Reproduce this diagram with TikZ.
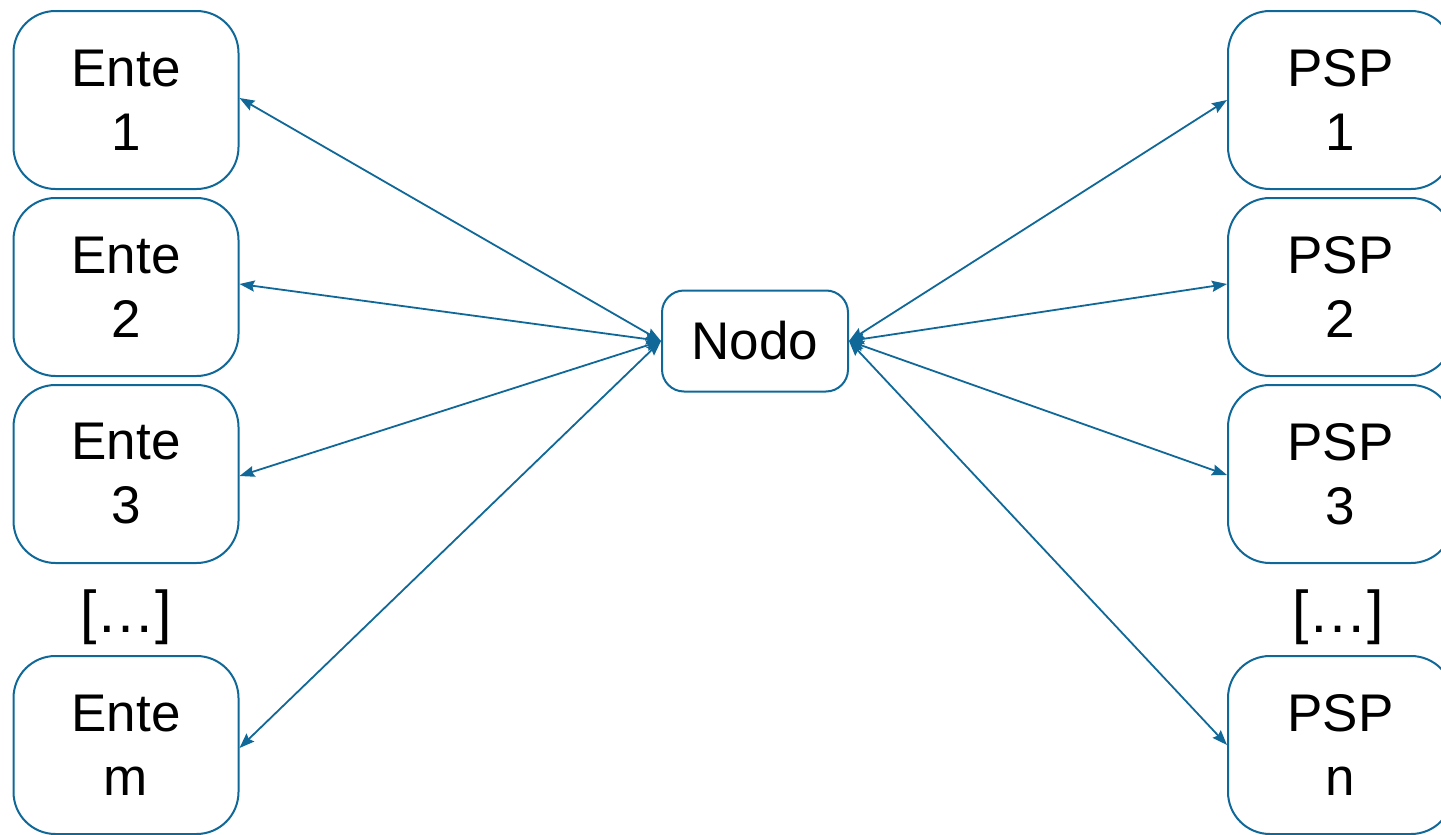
\documentclass[tikz,border=0pt]{standalone}
\usepackage{fontspec}
\setmainfont{Liberation Sans}
\usetikzlibrary{arrows.meta}
\definecolor{lineblue}{RGB}{16,104,152}
\begin{document}
\begin{tikzpicture}[x=1pt,y=-1pt,
  box/.style={draw=lineblue,line width=2pt,rounded corners=42pt,minimum width=225pt,minimum height=178pt,align=center,inner sep=0pt,font=\fontsize{53}{64}\selectfont},
  hub/.style={draw=lineblue,line width=2pt,rounded corners=22pt,minimum width=186pt,minimum height=101pt,inner sep=0pt,font=\fontsize{53}{64}\selectfont},
  dots/.style={inner sep=0pt,font=\fontsize{59}{70}\selectfont},
  link/.style={draw=lineblue,line width=1.8pt,{Stealth[length=15pt,width=11pt,inset=2pt]}-{Stealth[length=15pt,width=11pt,inset=2pt]}}]
\useasboundingbox (0,0) rectangle (1441,835);
\clip (0,0) rectangle (1441,835);
\node[box] (e1) at (126,100) {Ente\\1};
\node[box] (e2) at (126,287) {Ente\\2};
\node[box] (e3) at (126,474) {Ente\\3};
\node[dots] (ed) at (126,617) {[…]};
\node[box] (em) at (126,745) {Ente\\m};
\node[box] (p1) at (1340.5,100) {PSP\\1};
\node[box] (p2) at (1340.5,287) {PSP\\2};
\node[box] (p3) at (1340.5,474) {PSP\\3};
\node[dots] (pd) at (1338,617) {[…]};
\node[box] (pn) at (1340.5,745) {PSP\\n};
\node[hub] (n) at (755,341) {Nodo};
\draw[link] (n.west) -- ([yshift=2pt]e1.east);
\draw[link] (n.west) -- ([yshift=3pt]e2.east);
\draw[link] (n.west) -- ([yshift=-2pt]e3.east);
\draw[link] (n.west) -- ([yshift=-3pt]em.east);
\draw[link] (n.east) -- (p1.west);
\draw[link] (n.east) -- ([yshift=3pt]p2.west);
\draw[link] (n.east) -- ([yshift=-1pt]p3.west);
\draw[link] (n.east) -- (pn.west);
\end{tikzpicture}
\end{document}
